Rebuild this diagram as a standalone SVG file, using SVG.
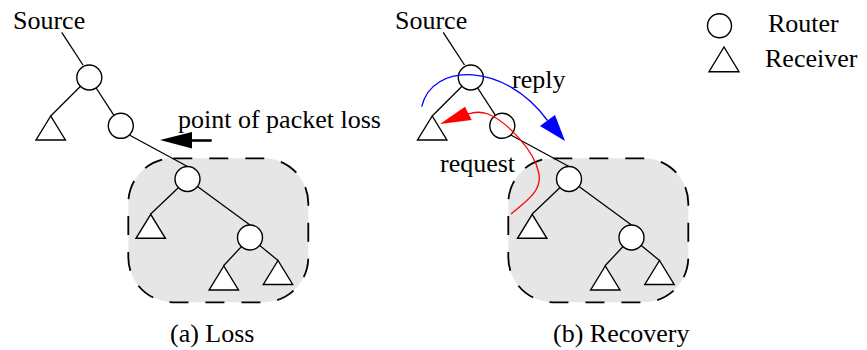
<svg xmlns="http://www.w3.org/2000/svg" width="867" height="350" viewBox="0 0 867 350">
<style>
text{font-family:"Liberation Serif","Times New Roman",serif;font-size:26px;fill:#000}
.ln{stroke:#000;stroke-width:1.3;fill:none}
.rt{fill:#fff;stroke:#000;stroke-width:1.4}
.rc{fill:#fff;stroke:#000;stroke-width:1.4;stroke-linejoin:miter}
.box{fill:#e6e6e6;stroke:#000;stroke-width:1.8;stroke-dasharray:19 17}
</style>
<defs>
<path id="tri" d="M0,0 L-14.7,24 L14.7,24 Z"/>
</defs>
<rect id="boxA" class="box" x="128.3" y="158.3" width="180" height="144" rx="45" ry="45"/>
<rect id="boxB" class="box" x="508.3" y="158.3" width="180" height="144" rx="45" ry="45"/>
<g id="connectors">
<g id="edgesA">
<line class="ln" x1="61.7" y1="32.3" x2="83" y2="65"/>
<line class="ln" x1="89.3" y1="77.5" x2="50.7" y2="116"/>
<line class="ln" x1="89.3" y1="77.5" x2="120.8" y2="125.8"/>
<line class="ln" x1="129.3" y1="135" x2="187.5" y2="166.5"/>
<line class="ln" x1="187.5" y1="179" x2="150.7" y2="214"/>
<line class="ln" x1="197.5" y1="186.5" x2="250" y2="225"/>
<line class="ln" x1="250" y1="237.5" x2="223.3" y2="266"/>
<line class="ln" x1="250" y1="237.5" x2="278.3" y2="260.7"/>
</g>
<g id="edgesB" transform="translate(381.5,0)">
<line class="ln" x1="61.7" y1="32.3" x2="83" y2="65"/>
<line class="ln" x1="89.3" y1="77.5" x2="50.7" y2="116"/>
<line class="ln" x1="89.3" y1="77.5" x2="120.8" y2="125.8"/>
<line class="ln" x1="129.3" y1="135" x2="187.5" y2="166.5"/>
<line class="ln" x1="187.5" y1="179" x2="150.7" y2="214"/>
<line class="ln" x1="197.5" y1="186.5" x2="250" y2="225"/>
<line class="ln" x1="250" y1="237.5" x2="223.3" y2="266"/>
<line class="ln" x1="250" y1="237.5" x2="278.3" y2="260.7"/>
</g>
<g id="lossArrow">
<line x1="190" y1="140.5" x2="211.7" y2="140.5" stroke="#000" stroke-width="2.6"/>
<polygon points="160,140 192,132 192,148.5" fill="#000"/>
</g>
</g>
<g id="nodesA">
<g id="a_r1"><circle class="rt" cx="89.3" cy="77.5" r="12.5"/></g>
<g id="a_r2"><circle class="rt" cx="120.8" cy="125.8" r="12.5"/></g>
<g id="a_r3"><circle class="rt" cx="187.5" cy="179" r="12.5"/></g>
<g id="a_r4"><circle class="rt" cx="250" cy="237.5" r="12.5"/></g>
<g id="a_t1"><use href="#tri" class="rc" x="50.7" y="116"/></g>
<g id="a_t2"><use href="#tri" class="rc" x="150.7" y="214.3"/></g>
<g id="a_t3"><use href="#tri" class="rc" x="223.8" y="266"/></g>
<g id="a_t4"><use href="#tri" class="rc" x="278" y="260.5"/></g>
</g>
<g id="nodesB" transform="translate(381.5,0)">
<g id="b_r1"><circle class="rt" cx="89.3" cy="77.5" r="12.5"/></g>
<g id="b_r2"><circle class="rt" cx="120.8" cy="125.8" r="12.5"/></g>
<g id="b_r3"><circle class="rt" cx="187.5" cy="179" r="12.5"/></g>
<g id="b_r4"><circle class="rt" cx="250" cy="237.5" r="12.5"/></g>
<g id="b_t1"><use href="#tri" class="rc" x="50.7" y="116"/></g>
<g id="b_t2"><use href="#tri" class="rc" x="150.7" y="214.3"/></g>
<g id="b_t3"><use href="#tri" class="rc" x="223.8" y="266"/></g>
<g id="b_t4"><use href="#tri" class="rc" x="278" y="260.5"/></g>
</g>
<g id="replyArrow">
<path d="M421.7,106.7 C432,62 505,62 547.5,120.5" fill="none" stroke="#0000ff" stroke-width="1.3"/>
<polygon points="565,141 540,126 555,115" fill="#0000ff"/>
</g>
<g id="requestArrow">
<path d="M511,214 C528,200 543,190 538.5,172 C534,150 506,121 488,114 C480,111 474,112 468,114" fill="none" stroke="#ff0000" stroke-width="1.3"/>
<polygon points="440,124 465,106.7 471.7,120" fill="#ff0000"/>
</g>
<g id="legend">
<g id="leg_router"><circle class="rt" cx="719.5" cy="25.8" r="12"/><text x="768" y="32">Router</text></g>
<g id="leg_receiver"><polygon class="rc" points="724,47 709,71.7 739,71.7"/><text x="765" y="67">Receiver</text></g>
</g>
<g id="labels">
<text x="13" y="28.5">Source</text>
<text x="395" y="28.5">Source</text>
<text x="178" y="128">point of packet loss</text>
<text x="512" y="88">reply</text>
<text x="440" y="172">request</text>
<text x="170" y="342">(a) Loss</text>
<text x="553" y="342">(b) Recovery</text>
</g>
</svg>
